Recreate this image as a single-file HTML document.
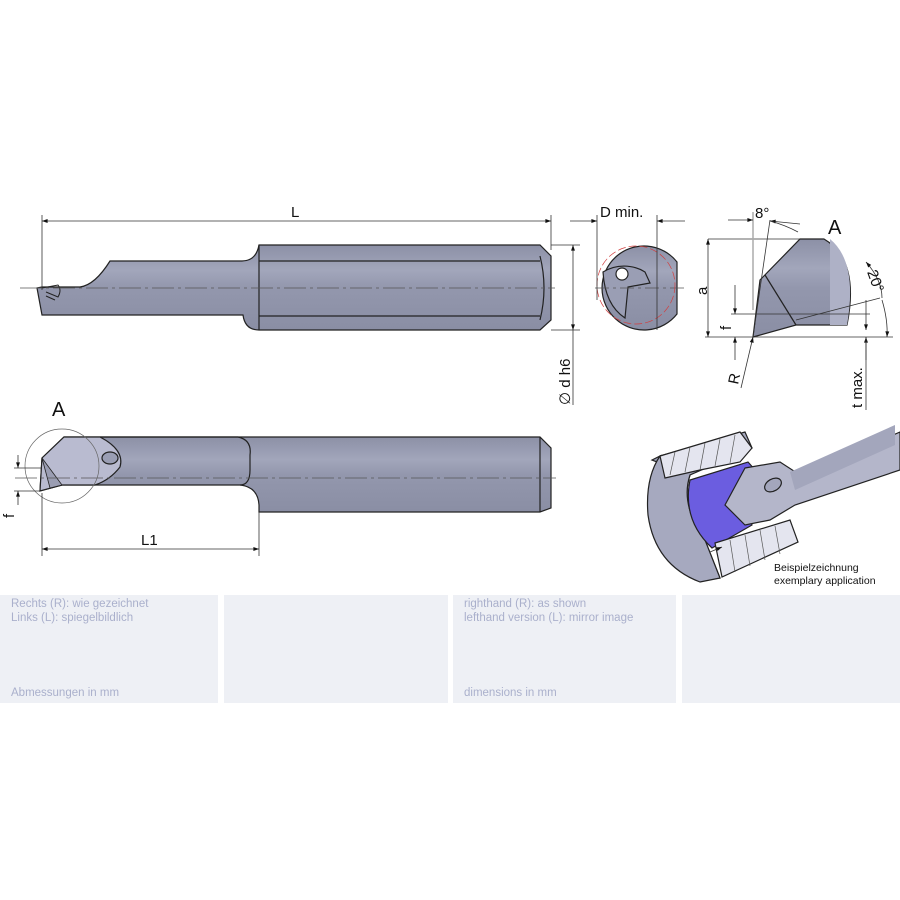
<!DOCTYPE html>
<html><head><meta charset="utf-8"><style>
html,body{margin:0;padding:0;background:#fff;}
svg{display:block;font-family:"Liberation Sans",sans-serif;}
.p{position:absolute;background:#eef0f5;top:595px;height:108px;}
.t{position:absolute;font-family:"Liberation Sans",sans-serif;font-size:11.5px;color:#aab0cc;line-height:14px;}
</style></head><body>
<div style="position:relative;width:900px;height:900px;overflow:hidden">
<svg width="900" height="900" viewBox="0 0 900 900">
<defs>
<linearGradient id="g" x1="0" y1="0" x2="0" y2="1">
<stop offset="0" stop-color="#8c90a6"/><stop offset="0.3" stop-color="#a2a6bb"/><stop offset="0.5" stop-color="#9397ad"/><stop offset="1" stop-color="#8a8ea4"/></linearGradient>
<marker id="a" viewBox="0 0 10 10" refX="10" refY="5" markerWidth="14" markerHeight="7" orient="auto-start-reverse"><path d="M0,1.5L10,5L0,8.5z" fill="#111"/></marker>
</defs>
<g stroke="#222" stroke-width="1.2" fill="url(#g)">
<!-- top tool -->
<path d="M259,245H540L551,256V320L540,330H259Q245,330 243,315H46L42,315L37,288L42,287H80Q95,285 110,261H242Q256,261 259,245Z"/>
<line x1="259" y1="261" x2="540" y2="261"/><line x1="259" y1="316" x2="540" y2="316"/>
<path d="M540,256Q548,288 540,320" fill="none"/><line x1="259" y1="245" x2="259" y2="330"/>
<path d="M42,288L58,285Q62,290 58,297L46,292M46,296L55,300" fill="none" stroke-width="1"/>
<!-- end view -->
<path d="M677,262A42,42 0 1 0 677,314Z"/>
<path d="M603,272A40,40 0 0 1 645,272L650,283L628,287L625,318Q605,305 603,272Z" fill="#9a9eb4"/>
<circle cx="622" cy="274" r="6" fill="#fff"/>
<!-- detail A -->
<path d="M800,239H824Q860,260 847,325H796L753,337L760,280Z"/>
<path d="M830,239Q858,262 847,325H830Z" fill="#aeb1c6" stroke="none"/>
<line x1="765" y1="275" x2="796" y2="325"/>
<!-- bottom tool -->
<path d="M64,437H540L551,448V508L540,512H259V505Q258,487 240,485H95L62,485L40,491L42,458Z"/>
<path d="M64,437H100Q125,450 120,467Q110,480 95,485H62L40,491L42,458Z" fill="#b9bbd0"/>
<path d="M42,458L62,485L50,488Z" fill="#9a9db2" stroke-width="0.8"/>
<ellipse cx="110" cy="458" rx="8" ry="6" fill="#9a9eb4"/>
<path d="M100,437H238Q252,440 250,455V470Q250,485 240,485" fill="none"/>
<line x1="540" y1="437" x2="540" y2="512"/>
<!-- 3D application -->
<path d="M652,460L660,456Q645,480 650,515Q658,560 700,580L720,578L705,540Q680,505 690,475Z" fill="#9a9db4"/>
<path d="M660,456L745,432L752,448L690,475Q680,505 705,540L720,578L700,582Q655,565 648,515Q645,478 660,456Z" fill="#a6a9bf"/>
<path d="M660,456L740,432L752,448L740,462L700,470L665,478Z" fill="#e4e5ef"/>
<path d="M690,480Q682,520 712,548L752,525L745,500L757,472L748,462Z" fill="#6b5de0"/>
<path d="M745,468L780,462L800,475L900,432V470L795,505L770,520L745,525L725,505Z" fill="#b4b6ca"/>
<path d="M790,472L895,425V445L795,490Z" fill="#a3a6bc" stroke="none"/>
<ellipse cx="773" cy="485" rx="9" ry="6" fill="#a3a6bc" transform="rotate(-30 773 485)"/>
<path d="M715,543L790,520L798,542L722,577Z" fill="#e4e5ef"/>
</g>
<g stroke="#555" stroke-width="0.7" fill="none">
<path d="M675,452L670,475M690,447L685,472M705,443L700,470M720,439L715,466M735,435L730,463M730,540L735,572M745,535L750,566M760,530L765,560M775,526L780,554"/>
<line x1="20" y1="288" x2="555" y2="288" stroke-dasharray="22,4,3,4"/>
<line x1="595" y1="288" x2="688" y2="288" stroke-dasharray="14,4,3,4"/>
<line x1="15" y1="478" x2="556" y2="478" stroke-dasharray="22,4,3,4"/>
<circle cx="636" cy="285" r="39" stroke="#d04040" stroke-dasharray="8,3"/>
<circle cx="62" cy="466" r="37" stroke="#666"/>
</g>
<g stroke="#333" stroke-width="0.8" fill="none">
<line x1="42" y1="215" x2="42" y2="290"/><line x1="551" y1="215" x2="551" y2="250"/>
<line x1="42" y1="221" x2="551" y2="221" marker-start="url(#a)" marker-end="url(#a)"/>
<line x1="551" y1="245" x2="580" y2="245"/><line x1="551" y1="330" x2="580" y2="330"/>
<line x1="573" y1="245" x2="573" y2="330" marker-start="url(#a)" marker-end="url(#a)"/>
<line x1="573" y1="330" x2="573" y2="405"/>
<line x1="597" y1="215" x2="597" y2="300"/><line x1="657" y1="215" x2="657" y2="330"/>
<line x1="570" y1="221" x2="597" y2="221" marker-end="url(#a)"/><line x1="685" y1="221" x2="657" y2="221" marker-end="url(#a)"/>
<line x1="708" y1="239" x2="800" y2="239"/>
<line x1="708" y1="239" x2="708" y2="337" marker-start="url(#a)" marker-end="url(#a)"/>
<line x1="705" y1="337" x2="893" y2="337"/>
<line x1="731" y1="314" x2="870" y2="314"/>
<line x1="735" y1="285" x2="735" y2="314" marker-end="url(#a)"/>
<line x1="735" y1="360" x2="735" y2="337" marker-end="url(#a)"/>
<line x1="741" y1="388" x2="753" y2="337" marker-end="url(#a)"/>
<line x1="753" y1="212" x2="753" y2="310" stroke="#aaa" stroke-width="1.5"/>
<line x1="753" y1="337" x2="770" y2="220"/>
<line x1="728" y1="220" x2="753" y2="220" marker-end="url(#a)"/>
<line x1="800" y1="224" x2="770" y2="221" marker-end="url(#a)"/>
<path d="M770,221Q785,225 798,232"/>
<line x1="796" y1="320" x2="880" y2="298"/>
<path d="M866,262Q882,280 882,298" marker-start="url(#a)"/>
<path d="M882,300Q888,320 887,337" marker-end="url(#a)"/>
<line x1="866" y1="300" x2="866" y2="330" marker-end="url(#a)"/>
<line x1="866" y1="360" x2="866" y2="337" marker-end="url(#a)"/>
<line x1="866" y1="337" x2="866" y2="410"/>
<line x1="18" y1="455" x2="18" y2="468" marker-end="url(#a)"/>
<line x1="18" y1="505" x2="18" y2="491" marker-end="url(#a)"/>
<line x1="14" y1="491" x2="40" y2="491"/><line x1="14" y1="468" x2="42" y2="468"/>
<line x1="42" y1="493" x2="42" y2="556"/><line x1="259" y1="512" x2="259" y2="556"/>
<line x1="42" y1="549" x2="259" y2="549" marker-start="url(#a)" marker-end="url(#a)"/>
<line x1="710" y1="552" x2="722" y2="547" marker-end="url(#a)"/>
</g>
<g fill="#111" font-size="15">
<text x="291" y="217">L</text>
<text x="600" y="217">D min.</text>
<text x="755" y="218">8°</text>
<text x="828" y="234" font-size="20">A</text>
<text x="52" y="416" font-size="20">A</text>
<text x="141" y="545">L1</text>
<text transform="translate(707,295) rotate(-90)">a</text>
<text transform="translate(731,330) rotate(-90)">f</text>
<text transform="translate(738,385) rotate(-78)">R</text>
<text transform="translate(14,518) rotate(-90)">f</text>
<text transform="translate(570,405) rotate(-90)">∅ d h6</text>
<text transform="translate(862,408) rotate(-90)">t max.</text>
<text transform="translate(867,272) rotate(70)">20°</text>
<text x="774" y="571" font-size="10.5">Beispielzeichnung</text>
<text x="774" y="584" font-size="10.5">exemplary application</text>
</g>
</svg>
<div class="p" style="left:0;width:218px"></div>
<div class="p" style="left:224px;width:224px"></div>
<div class="p" style="left:453px;width:223px"></div>
<div class="p" style="left:682px;width:218px"></div>
<div class="t" style="left:11px;top:597px">Rechts (R): wie gezeichnet<br>Links (L): spiegelbildlich</div>
<div class="t" style="left:11px;top:686px">Abmessungen in mm</div>
<div class="t" style="left:464px;top:597px">righthand (R): as shown<br>lefthand version (L): mirror image</div>
<div class="t" style="left:464px;top:686px">dimensions in mm</div>
</div>
</body></html>
